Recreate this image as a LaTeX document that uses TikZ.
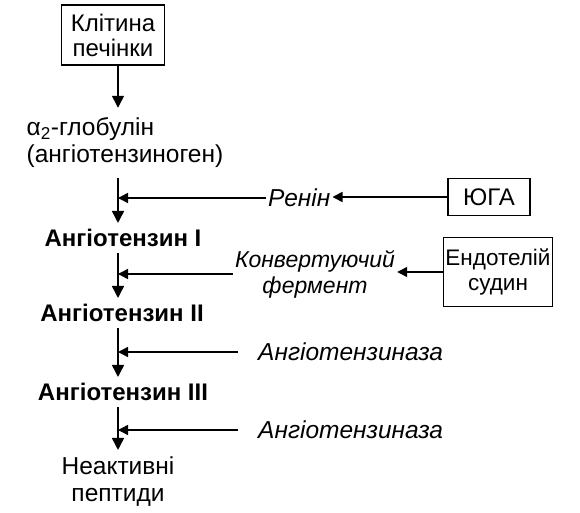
\documentclass[tikz,border=0pt]{standalone}
\usepackage{fontspec}
\setmainfont{Liberation Sans}
\usetikzlibrary{arrows.meta, positioning}

\begin{document}
\begin{tikzpicture}[x=1pt, y=-1pt,
    box/.style={rectangle, draw=black, line width=1.5pt, align=center, inner sep=2pt, font=\fontsize{24}{25}\selectfont},
    txt/.style={align=center, inner xsep=2pt, inner ysep=7pt, font=\fontsize{24.5}{27}\selectfont},
    stage/.style={inner xsep=2pt, inner ysep=6pt, font=\fontsize{24}{26}\selectfont\bfseries},
    enz/.style={align=center, inner sep=2pt, font=\fontsize{24.5}{26}\selectfont\itshape},
    varr/.style={-{Triangle[length=12pt, width=12pt]}, line width=1.5pt},
    harr/.style={-{Triangle[length=10pt, width=10pt]}, line width=1.5pt}
]
\useasboundingbox (0,0) rectangle (580,513);
\coordinate (axis) at (118,0);

\node[box, minimum width=103pt, minimum height=60pt] (liver) at (113,35) {Клітина\\печінки};
\node[txt, align=left, inner ysep=10pt] (glob) at (125,143) {α\textsubscript{2}-глобулін\\(ангіотензиноген)};
\node[stage] (ang1) at (123,238) {Ангіотензин I};
\node[stage] (ang2) at (122,313) {Ангіотензин II};
\node[stage] (ang3) at (123,392) {Ангіотензин III};
\node[txt] (pept) at (118,482) {Неактивні\\пептиди};

\node[enz, anchor=west] (renin) at (266,198) {Ренін};
\node[box, minimum width=82pt, minimum height=37pt] (yuga) at (489,197) {ЮГА};
\node[enz, font=\fontsize{23}{26}\selectfont\itshape] (ferm) at (315,274) {Конвертуючий\\фермент};
\node[box, minimum width=103pt, minimum height=69pt, font=\fontsize{22.5}{25}\selectfont] (endo) at (498,272) {Ендотелій\\судин};
\node[enz, anchor=west] (ase1) at (256,352) {Ангіотензиназа};
\node[enz, anchor=west] (ase2) at (256,430) {Ангіотензиназа};

\draw[varr] (liver.south -| axis) -- (glob.north -| axis);
\draw[varr] (glob.south -| axis) -- (ang1.north -| axis);
\draw[varr] (ang1.south -| axis) -- (ang2.north -| axis);
\draw[varr] (ang2.south -| axis) -- (ang3.north -| axis);
\draw[varr] (ang3.south -| axis) -- (pept.north -| axis);

\draw[harr] (renin.west) -- (renin.west -| axis);
\draw[harr] (yuga.west) -- (yuga.west -| renin.east);
\draw[harr] (ferm.west) -- (ferm.west -| axis);
\draw[harr] (endo.west) -- (endo.west -| ferm.east);
\draw[harr] ([xshift=-18pt]ase1.west) -- (ase1.west -| axis);
\draw[harr] ([xshift=-18pt]ase2.west) -- (ase2.west -| axis);
\end{tikzpicture}
\end{document}
